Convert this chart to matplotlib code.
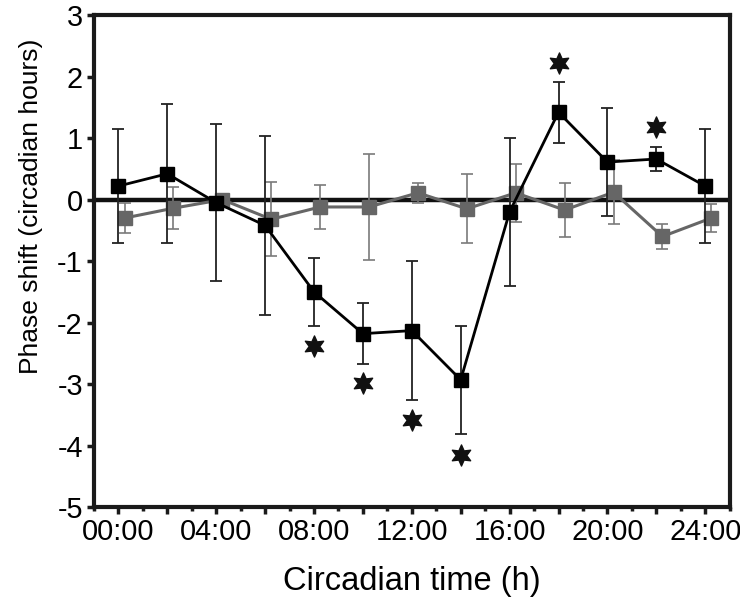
import numpy as np
import matplotlib
matplotlib.use("Agg")
import matplotlib.pyplot as plt
from matplotlib.ticker import MultipleLocator

plt.rcParams['font.family'] = ['Liberation Sans', 'DejaVu Sans']
plt.rcParams['axes.unicode_minus'] = False

# circadian time of each pulse (h)
ct = [0, 2, 4, 6, 8, 10, 12, 14, 16, 18, 20, 22, 24]

# treated group (black squares)
shift_black = [0.22, 0.42, -0.05, -0.42, -1.5, -2.18, -2.13, -2.93, -0.2, 1.42, 0.61, 0.66, 0.22]
err_black = [0.92, 1.13, 1.28, 1.45, 0.55, 0.5, 1.13, 0.88, 1.2, 0.5, 0.88, 0.2, 0.92]

# control group (grey squares)
shift_grey = [-0.3, -0.14, 0.0, -0.32, -0.12, -0.12, 0.11, -0.15, 0.11, -0.17, 0.12, -0.6, -0.3]
err_grey = [0.24, 0.34, 0.05, 0.6, 0.35, 0.86, 0.16, 0.56, 0.47, 0.44, 0.52, 0.21, 0.23]

# significance stars
star_ct = [8, 10, 12, 14, 18, 22]
star_y = [-2.38, -2.98, -3.58, -4.15, 2.22, 1.18]

xtick_pos = list(range(0, 25, 2))
xtick_labels = ['00:00', '', '04:00', '', '08:00', '', '12:00', '', '16:00', '', '20:00', '', '24:00']

fig = plt.figure(figsize=(7.4, 6.03), dpi=100)
ax = fig.add_axes([0.127, 0.159, 0.859, 0.816])

ax.axhline(0, color='#111111', lw=3.2, zorder=1)

ct_grey = np.array(ct) + 0.25
ax.errorbar(ct_grey, shift_grey, yerr=err_grey, color='#666666', ecolor='#7a7a7a',
            elinewidth=1.2, capsize=4, capthick=1.2, lw=2.2, marker='s', ms=10,
            mec='#666666', mfc='#666666', zorder=2)
ax.errorbar(ct, shift_black, yerr=err_black, color='black', ecolor='#222222',
            elinewidth=1.3, capsize=4, capthick=1.3, lw=2, marker='s', ms=10,
            mec='black', mfc='black', zorder=3)

ax.scatter(star_ct, star_y, marker=(6, 1, 0), s=230, color='#111111', zorder=4)

ax.set_xlim(-1, 25)
ax.set_ylim(-5, 3)
ax.set_yticks(range(-5, 4))
ax.set_xticks(xtick_pos)
ax.set_xticklabels(xtick_labels)
ax.xaxis.set_minor_locator(MultipleLocator(1))
ax.tick_params(axis='both', which='major', labelsize=20.8, width=2.5, length=5,
               direction='out', pad=3, color='#1a1a1a')
ax.tick_params(axis='x', which='minor', width=2.5, length=3, direction='out', color='#1a1a1a')

for s in ax.spines.values():
    s.set_linewidth(3)
    s.set_color('#1a1a1a')

ax.set_xlabel('Circadian time (h)', fontsize=23.5, labelpad=14)
ax.set_ylabel('Phase shift (circadian hours)', fontsize=19)
ax.yaxis.set_label_coords(-0.08, 0.612)

fig.savefig('out.png', dpi=100)
